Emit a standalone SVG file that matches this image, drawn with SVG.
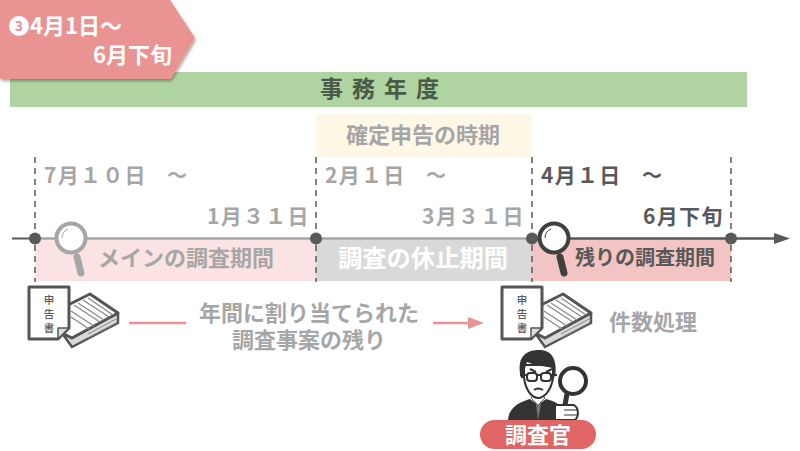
<svg xmlns="http://www.w3.org/2000/svg" width="800" height="451" viewBox="0 0 800 451">
<style>
text{font-family:"Noto Sans CJK JP","Liberation Sans",sans-serif;font-weight:700}
.g{fill:#a6a6a6}.d{fill:#595959}
.dash{stroke:#595959;stroke-width:1.5;stroke-dasharray:6 5;fill:none}
.dt{font-size:21px;letter-spacing:1.3px}
.dl{font-size:10.5px;font-weight:500;text-anchor:middle;fill:#595959}
</style>
<defs>
<filter id="sh" x="-5%" y="-5%" width="115%" height="115%"><feDropShadow dx="1" dy="2" stdDeviation="1.5" flood-color="#000" flood-opacity=".35"/></filter>
<g id="docs">
<path d="M34 46L44 60 90 36V26L44 51Z" fill="#d9d9d9" stroke="#555" stroke-width="2.5" stroke-linejoin="round"/>
<path d="M36 20L62 7 90 26 44 51 34 46Z" fill="#fff" stroke="#555" stroke-width="3" stroke-linejoin="round"/>
<path d="M46 18L72 35M50 16L76 33M55 13L81 30M43 24L66 39M43 30L61 42M60 11L85 28" stroke="#8a8a8a" stroke-width="1.3" fill="none"/>
<path d="M60 47L88 32M60 51L88 36" stroke="#888" stroke-width="1" fill="none"/>
<path d="M1 0H41V41L30 52H1Z" fill="#fff" stroke="#555" stroke-width="3" stroke-linejoin="round"/>
<path d="M30 52V41H41Z" fill="#ddd" stroke="#555" stroke-width="1.5" stroke-linejoin="round"/>
<text x="21" y="17" class="dl">申</text>
<text x="21" y="31" class="dl">告</text>
<text x="21" y="45" class="dl">書</text>
</g>
</defs>
<rect width="800" height="451" fill="#fff"/>
<g id="fiscal-year">
<rect x="10" y="72" width="737" height="35" fill="#b0d4a1"/>
<text x="320" y="97" font-size="23" fill="#4a5a48" letter-spacing="9">事務年度</text>
</g>
<g id="badge">
<path d="M0 0H170L195 38 171 79H0Z" fill="#e99393" filter="url(#sh)"/>
<circle cx="19" cy="26" r="10" fill="#fff"/>
<text x="19" y="31" font-size="14" text-anchor="middle" fill="#e99393">3</text>
<text x="30" y="34" font-size="22" fill="#fff">4月1日～</text>
<text x="93" y="63" font-size="22" fill="#fff">6月下旬</text>
</g>
<g id="filing-period">
<rect x="316" y="114" width="216" height="43" fill="#fff8e7"/>
<text x="423" y="143" font-size="22" text-anchor="middle" class="g">確定申告の時期</text>
</g>
<g id="band-main"><rect x="35" y="238" width="281" height="43" fill="#fbe3e3"/>
<text x="186" y="266" font-size="22" text-anchor="middle" class="g">メインの調査期間</text></g>
<g id="band-pause"><rect x="316" y="238" width="216" height="43" fill="#d9d9d9"/>
<text x="423" y="267" font-size="24.3" text-anchor="middle" fill="#fff">調査の休止期間</text></g>
<g id="band-rest"><rect x="532" y="238" width="199" height="43" fill="#f2c4c4"/>
<text x="645" y="265" font-size="20" text-anchor="middle" class="d">残りの調査期間</text></g>
<g id="connectors">
<path class="dash" d="M35 157V282M316 157V282M532 157V282M731 157V282"/>
<path d="M12 238.5H35" stroke="#595959" stroke-width="2"/>
<path d="M35 238.5H532" stroke="#a6a6a6" stroke-width="2.5"/>
<path d="M532 238.5H776" stroke="#595959" stroke-width="2.5"/>
<path d="M774 233L790 238.5 774 244Z" fill="#595959"/>
<g fill="#595959"><circle cx="35" cy="238.5" r="6"/><circle cx="316" cy="238.5" r="6"/><circle cx="532" cy="238.5" r="6"/><circle cx="731" cy="238.5" r="6"/></g>
<path d="M129 323H186" stroke="#e99393" stroke-width="2.5"/>
<path d="M433 323H470" stroke="#e99393" stroke-width="2.5"/>
<path d="M468 317L484 323 468 329Z" fill="#e99393"/>
</g>
<g id="date-main">
<text x="44" y="183" class="dt g">7月１０日</text>
<text x="167" y="183" font-size="20" class="g">～</text>
<text x="207" y="224" class="dt g">1月３１日</text>
</g>
<g id="date-pause">
<text x="325" y="183" class="dt g">2月１日</text>
<text x="426" y="183" font-size="20" class="g">～</text>
<text x="422" y="224" class="dt g">3月３１日</text>
</g>
<g id="date-rest">
<text x="541" y="183" class="dt d">4月１日</text>
<text x="642" y="183" font-size="20" class="d">～</text>
<text x="643" y="224" class="dt d">6月下旬</text>
</g>
<g id="loupe-gray" fill="none" stroke="#a6a6a6">
<circle cx="71" cy="238" r="14.5" fill="#fff" stroke-width="4"/>
<path d="M77 257L81 273" stroke-width="7" stroke-linecap="round"/>
<path d="M62 238A10 10 0 0 1 68 229" stroke-width="1"/>
</g>
<g id="loupe-dark" fill="none" stroke="#404040">
<circle cx="554" cy="238" r="14.5" fill="#fff" stroke-width="4"/>
<path d="M560 257L564 273" stroke-width="7" stroke-linecap="round"/>
<path d="M545 238A10 10 0 0 1 551 229" stroke-width="1"/>
</g>
<g id="docs-left"><use href="#docs" x="28" y="287"/></g>
<g id="docs-right"><use href="#docs" x="501" y="287"/></g>
<g id="note">
<text font-size="22" text-anchor="middle" class="g"><tspan x="309" y="321">年間に割り当てられた</tspan><tspan x="309" y="348">調査事案の残り</tspan></text>
</g>
<text id="count-label" x="609" y="330" font-size="22" class="g">件数処理</text>
<g id="inspector">
<path d="M508 420C509 407 520 402 530 399L538 405 546 399C553 401 558 403 561 407V420Z" fill="#333"/>
<path d="M531 398L538 405 545 398 541 394H535Z" fill="#fff" stroke="#333" stroke-width=".8"/>
<path d="M536 404L538 420 541 404Z" fill="#777"/>
<path d="M524 378C526 392 533 398 538 398 544 398 551 391 553 378V365H524Z" fill="#fff" stroke="#333" stroke-width="2"/>
<path d="M521 378C516 358 525 350 539 350 552 350 558 360 555 378L552 368C545 366 535 366 527 362 525 367 524 372 524 378Z" fill="#333"/>
<g fill="#fff" stroke="#333" stroke-width="2"><rect x="527" y="373" width="10" height="8" rx="3"/><rect x="541" y="373" width="10" height="8" rx="3"/></g>
<path d="M537 375H541M530 369L536 372M546 372L552 369M534 390Q538 387 543 390M520 375H527M551 375H557" stroke="#333" stroke-width="2" fill="none"/>
<circle cx="573" cy="381" r="13" fill="#fff" stroke="#333" stroke-width="4"/>
<path d="M567 394L565 405" stroke="#333" stroke-width="5"/>
<path d="M555 405H574C579 408 579 417 575 420H555Z" fill="#fff" stroke="#333" stroke-width="2"/>
<path d="M564 410H577M564 415H577" stroke="#333" stroke-width="1.2"/>
</g>
<g id="inspector-label">
<rect x="480" y="420" width="116" height="29" rx="14.5" fill="#e06666"/>
<text x="538" y="443" font-size="22" text-anchor="middle" fill="#fff">調査官</text>
</g>
</svg>
